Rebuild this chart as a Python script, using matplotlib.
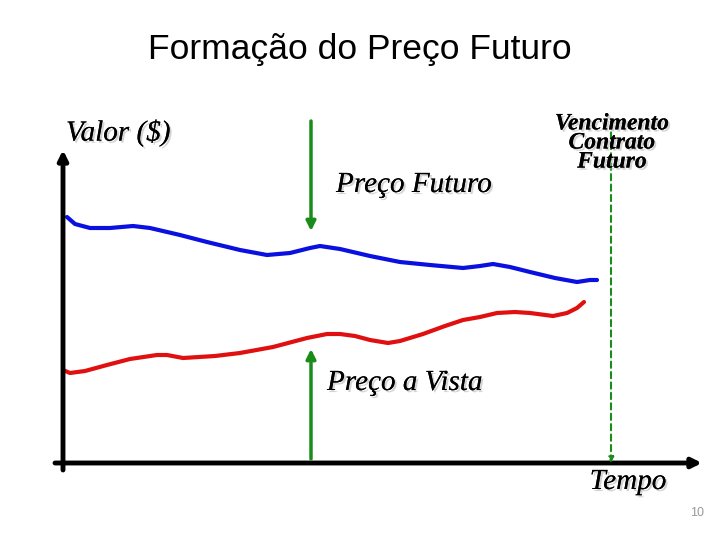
import matplotlib.pyplot as plt
import matplotlib.patheffects as pe

# curves, in pixel units (x right, y down)
futuro_x = [67, 75, 90, 110, 133, 150, 180, 207, 240, 267, 290, 310, 320, 340, 370, 400, 430, 463, 480, 493, 510, 530, 555, 577, 590, 597]
futuro_y = [217, 224, 228, 228, 226, 228, 235, 242, 250, 255, 253, 248, 246, 249, 256, 262, 265, 268, 266, 264, 267, 272, 278, 282, 280, 280]

vista_x = [63, 70, 85, 107, 130, 157, 167, 183, 215, 240, 273, 307, 327, 340, 355, 370, 388, 400, 423, 445, 463, 480, 497, 515, 530, 553, 567, 577, 584]
vista_y = [370, 373, 371, 365, 359, 355, 355, 358, 356, 353, 347, 338, 334, 334, 336, 340, 343, 341, 334, 326, 320, 317, 313, 312, 313, 316, 313, 308, 302]

title = 'Formação do Preço Futuro'
lbl_valor = 'Valor ($)'
lbl_futuro = 'Preço Futuro'
lbl_vista = 'Preço a Vista'
lbl_venc = 'Vencimento\nContrato\nFuturo'
lbl_tempo = 'Tempo'

fig = plt.figure(figsize=(7.2, 5.4), dpi=100)
ax = fig.add_axes([0, 0, 1, 1])
ax.set_xlim(0, 720)
ax.set_ylim(540, 0)
ax.axis('off')

green = '#1a8c1a'
shadow = [pe.withSimplePatchShadow(offset=(1.5, -1.5), shadow_rgbFace='#aaaaaa', alpha=0.5), pe.Normal()]

# axes drawn as arrows
ax.annotate('', xy=(63, 150), xytext=(63, 470),
            arrowprops=dict(arrowstyle='-|>', color='black', lw=3.5, mutation_scale=14, shrinkA=0, shrinkB=0))
ax.annotate('', xy=(702, 463), xytext=(55, 463),
            arrowprops=dict(arrowstyle='-|>', color='black', lw=3.5, mutation_scale=14, shrinkA=0, shrinkB=0))

# price curves
ax.plot(futuro_x, futuro_y, color='#0a10e0', lw=3, solid_capstyle='round', solid_joinstyle='round')
ax.plot(vista_x, vista_y, color='#e01010', lw=3, solid_capstyle='round', solid_joinstyle='round')

# green arrows
ax.annotate('', xy=(311, 231), xytext=(311, 121),
            arrowprops=dict(arrowstyle='-|>', color=green, lw=2.5, mutation_scale=14, shrinkA=0, shrinkB=0))
ax.annotate('', xy=(311, 349), xytext=(311, 459),
            arrowprops=dict(arrowstyle='-|>', color=green, lw=2.5, mutation_scale=14, shrinkA=0, shrinkB=0))
ax.annotate('', xy=(611, 463), xytext=(611, 122),
            arrowprops=dict(arrowstyle='-|>', color=green, lw=1.5, ls=(0, (3, 2)), mutation_scale=8, shrinkA=0, shrinkB=0))

# texts
ax.text(360, 50, title, ha='center', va='center', fontsize=25.5, family='Liberation Sans')
ax.text(66, 133, lbl_valor, ha='left', va='center', fontsize=21, family='Liberation Serif',
        style='italic', path_effects=shadow)
ax.text(336, 185, lbl_futuro, ha='left', va='center', fontsize=21, family='Liberation Serif',
        style='italic', path_effects=shadow)
ax.text(327, 383, lbl_vista, ha='left', va='center', fontsize=21, family='Liberation Serif',
        style='italic', path_effects=shadow)
ax.text(628, 482, lbl_tempo, ha='center', va='center', fontsize=21, family='Liberation Serif',
        style='italic', path_effects=shadow)
ax.text(612, 143, lbl_venc, ha='center', va='center', fontsize=17, family='Liberation Serif',
        style='italic', weight='bold', linespacing=0.88, path_effects=shadow)
ax.text(697, 513, '10', ha='center', va='center', fontsize=9, color='#999999', family='Liberation Sans')

fig.savefig('out.png', dpi=100)
